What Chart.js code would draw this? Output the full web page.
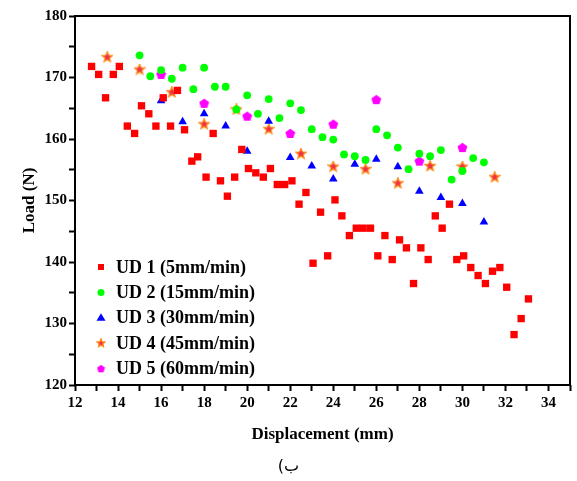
<!DOCTYPE html>
<html>
<head>
<meta charset="utf-8">
<script src="https://cdn.jsdelivr.net/npm/chart.js@4.4.0/dist/chart.umd.min.js"></script>
<style>
  body { margin: 0; background: #fff; }
  #wrap { position: relative; width: 577px; height: 481px; }
  #caption {
    position: absolute; left: 0; top: 456px; width: 577px;
    text-align: center; font: 16px "DejaVu Sans", sans-serif; color: #000;
  }
</style>
</head>
<body>
<div id="wrap">
  <canvas id="loadChart" width="577" height="481"></canvas>
  <div id="caption" dir="rtl">ب)</div>
</div>
<script>
// values
const ud1X = [12.77, 13.1, 13.42, 13.78, 14.06, 14.43, 14.77, 15.09, 15.43, 15.76, 16.1, 16.44, 16.76, 17.09, 17.43, 17.7,
  18.09, 18.42, 18.76, 19.08, 19.42, 19.75, 20.06, 20.4, 20.75, 21.08, 21.4, 21.74, 22.08, 22.41, 22.73, 23.06, 23.41,
  23.74, 24.08, 24.4, 24.75, 25.07, 25.39, 25.73, 26.07, 26.4, 26.74, 27.08, 27.4, 27.73, 28.07, 28.41, 28.74, 29.06,
  29.4, 29.74, 30.06, 30.39, 30.73, 31.07, 31.4, 31.74, 32.06, 32.4, 32.73, 33.07];
const ud1Y = [171.8, 170.5, 166.7, 170.5, 171.8, 162.1, 160.9, 165.4, 164.1, 162.1, 166.7, 162.1, 167.9, 161.5, 156.4, 157.1,
  153.8, 160.9, 153.2, 150.7, 153.8, 158.3, 155.2, 154.5, 153.8, 155.2, 152.6, 152.6, 153.2, 149.4, 151.3, 139.8, 148.1,
  141.0, 150.1, 147.5, 144.3, 145.5, 145.5, 145.5, 141.0, 144.3, 140.4, 143.6, 142.3, 136.5, 142.3, 140.4, 147.5, 145.5,
  149.4, 140.4, 141.0, 139.1, 137.8, 136.5, 138.5, 139.1, 135.9, 128.2, 130.8, 134.0];

const ud2X = [15, 15.5, 16, 16.5, 17, 17.5, 18, 18.5, 19, 19.5, 20, 20.5, 21, 21.5, 22, 22.5, 23, 23.5, 24, 24.5,
  25, 25.5, 26, 26.5, 27, 27.5, 28, 28.5, 29, 29.5, 30, 30.5, 31];
const ud2Y = [173.6, 170.2, 171.2, 169.8, 171.6, 168.1, 171.6, 168.5, 168.5, 164.8, 167.1, 164.1, 166.5, 163.4, 165.8, 164.7,
  161.6, 160.3, 159.9, 157.5, 157.2, 156.6, 161.6, 160.6, 158.6, 155.1, 157.6, 157.2, 158.2, 153.4, 154.8, 156.9, 156.2];

const ud3X = [16, 17, 18, 19, 20, 21, 22, 23, 24, 25, 26, 27, 28, 29, 30, 31];
const ud3Y = [166.2, 162.8, 164.1, 162.1, 158.0, 162.9, 157.0, 155.6, 153.5, 155.9, 156.7, 155.5, 151.5, 150.5, 149.5, 146.5];

const ud4X = [13.5, 15, 16.5, 18, 19.5, 21, 22.5, 24, 25.5, 27, 28.5, 30, 31.5];
const ud4Y = [173.3, 171.3, 167.6, 162.4, 164.8, 161.6, 157.6, 155.5, 155.1, 152.8, 155.6, 155.5, 153.8];

const ud5X = [16, 18, 20, 22, 24, 26, 28, 30];
const ud5Y = [170.5, 165.8, 163.7, 160.9, 162.4, 166.4, 156.4, 158.6];

const seriesNames = ['UD 1 (5mm/min)', 'UD 2 (15mm/min)', 'UD 3 (30mm/min)', 'UD 4 (45mm/min)', 'UD 5 (60mm/min)'];
const xTickLabels = [12, 14, 16, 18, 20, 22, 24, 26, 28, 30, 32, 34];
const yTickLabels = [120, 130, 140, 150, 160, 170, 180];

const FONT = '"Liberation Serif", "Times New Roman", serif';

// little canvases for the marker shapes Chart.js does not have
function makeStar(size, fill, stroke) {
    const c = document.createElement('canvas');
    c.width = size; c.height = size;
    const g = c.getContext('2d');
    const cx = size / 2, cy = size / 2, ro = size / 2 - 0.6, ri = ro * 0.45;
    g.beginPath();
    for (let i = 0; i < 10; i++) {
        const r = i % 2 === 0 ? ro : ri;
        const a = -Math.PI / 2 + i * Math.PI / 5;
        g.lineTo(cx + r * Math.cos(a), cy + r * Math.sin(a));
    }
    g.closePath();
    g.fillStyle = fill;
    g.fill();
    g.lineWidth = 1.2;
    g.strokeStyle = stroke;
    g.stroke();
    return c;
}

function makePentagon(size, fill) {
    const c = document.createElement('canvas');
    c.width = size; c.height = size;
    const g = c.getContext('2d');
    const cx = size / 2, cy = size / 2 + 0.4, r = size / 2 - 0.3;
    g.beginPath();
    for (let i = 0; i < 5; i++) {
        const a = -Math.PI / 2 + i * 2 * Math.PI / 5;
        g.lineTo(cx + r * Math.cos(a), cy + r * Math.sin(a));
    }
    g.closePath();
    g.fillStyle = fill;
    g.fill();
    return c;
}

const starImg = makeStar(12, '#f0304a', '#ff8c1a');
const pentImg = makePentagon(11, '#ff00ff');
const starSmall = makeStar(10, '#f0304a', '#ff8c1a');
const pentSmall = makePentagon(9, '#ff00ff');

function pts(xs, ys) {
    return xs.map((x, i) => ({ x: x, y: ys[i] }));
}

const frameAndLegend = {
    id: 'frameAndLegend',
    afterDraw(chart) {
        const ctx = chart.ctx;
        const a = chart.chartArea;
        ctx.save();
        ctx.strokeStyle = '#000';
        ctx.lineWidth = 2;
        ctx.strokeRect(a.left, a.top, a.right - a.left, a.bottom - a.top);

        // legend inside the plot, bottom left
        const markers = [
            { type: 'rect', color: '#ff0000' },
            { type: 'circle', color: '#00ff00' },
            { type: 'triangle', color: '#0000ff' },
            { type: 'img', img: starSmall },
            { type: 'img', img: pentSmall }
        ];
        ctx.font = 'bold 18px ' + FONT;
        ctx.textBaseline = 'middle';
        ctx.fillStyle = '#000';
        seriesNames.forEach((name, i) => {
            const mx = a.left + 26;
            const my = a.bottom - 118 + i * 25.4;
            const m = markers[i];
            ctx.fillStyle = m.color || '#000';
            ctx.beginPath();
            if (m.type === 'rect') {
                ctx.rect(mx - 3, my - 3, 6, 6);
                ctx.fill();
            } else if (m.type === 'circle') {
                ctx.arc(mx, my, 3.5, 0, Math.PI * 2);
                ctx.fill();
            } else if (m.type === 'triangle') {
                ctx.moveTo(mx, my - 4.5);
                ctx.lineTo(mx + 4.5, my + 3);
                ctx.lineTo(mx - 4.5, my + 3);
                ctx.closePath();
                ctx.fill();
            } else {
                ctx.drawImage(m.img, mx - m.img.width / 2, my - m.img.height / 2);
            }
            ctx.fillStyle = '#000';
            ctx.fillText(name, a.left + 41, my + 1);
        });
        ctx.restore();
    }
};

document.addEventListener('DOMContentLoaded', function() {
    const ctx = document.getElementById('loadChart').getContext('2d');

    new Chart(ctx, {
        type: 'scatter',
        data: {
            datasets: [
                { label: seriesNames[0], data: pts(ud1X, ud1Y), pointStyle: 'rect', pointRadius: 5.2,
                  backgroundColor: '#ff0000', borderWidth: 0 },
                { label: seriesNames[1], data: pts(ud2X, ud2Y), pointStyle: 'circle', pointRadius: 3.9,
                  backgroundColor: '#00ff00', borderWidth: 0 },
                { label: seriesNames[2], data: pts(ud3X, ud3Y), pointStyle: 'triangle', pointRadius: 5,
                  backgroundColor: '#0000ff', borderWidth: 0 },
                { label: seriesNames[3], data: pts(ud4X, ud4Y), pointStyle: starImg, pointRadius: 6 },
                { label: seriesNames[4], data: pts(ud5X, ud5Y), pointStyle: pentImg, pointRadius: 6 }
            ]
        },
        options: {
            responsive: false,
            animation: false,
            layout: { padding: { top: 16, right: 1, bottom: 31, left: 0 } },
            plugins: {
                legend: { display: false },
                tooltip: { enabled: false }
            },
            scales: {
                x: {
                    type: 'linear',
                    min: 12,
                    max: 35,
                    afterBuildTicks: function(scale) {
                        const t = [];
                        for (let v = 12; v <= 35; v++) t.push({ value: v });
                        scale.ticks = t;
                    },
                    afterFit: function(scale) { scale.height = 65; },
                    ticks: {
                        autoSkip: false,
                        maxRotation: 0,
                        padding: 3,
                        color: '#000',
                        font: { family: FONT, size: 15, weight: 'bold' },
                        callback: v => xTickLabels.includes(v) ? String(v) : ''
                    },
                    grid: { drawOnChartArea: false, drawTicks: true, tickLength: 6, tickWidth: 2, tickColor: '#000' },
                    border: { display: false },
                    title: {
                        display: true,
                        text: 'Displacement (mm)',
                        color: '#000',
                        font: { family: FONT, size: 17, weight: 'bold' },
                        padding: { top: 0, bottom: 5 }
                    }
                },
                y: {
                    min: 120,
                    max: 180,
                    afterBuildTicks: function(scale) {
                        const t = [];
                        for (let v = 120; v <= 180; v += 5) t.push({ value: v });
                        scale.ticks = t;
                    },
                    afterFit: function(scale) { scale.width = 75; },
                    ticks: {
                        autoSkip: false,
                        padding: 2,
                        color: '#000',
                        font: { family: FONT, size: 15, weight: 'bold' },
                        callback: v => yTickLabels.includes(v) ? String(v) : ''
                    },
                    grid: { drawOnChartArea: false, drawTicks: true, tickLength: 6, tickWidth: 2, tickColor: '#000' },
                    border: { display: false },
                    title: {
                        display: true,
                        text: 'Load (N)',
                        color: '#000',
                        font: { family: FONT, size: 17, weight: 'bold' },
                        padding: { top: 19, bottom: 0 }
                    }
                }
            }
        },
        plugins: [frameAndLegend]
    });
});
</script>
</body>
</html>
